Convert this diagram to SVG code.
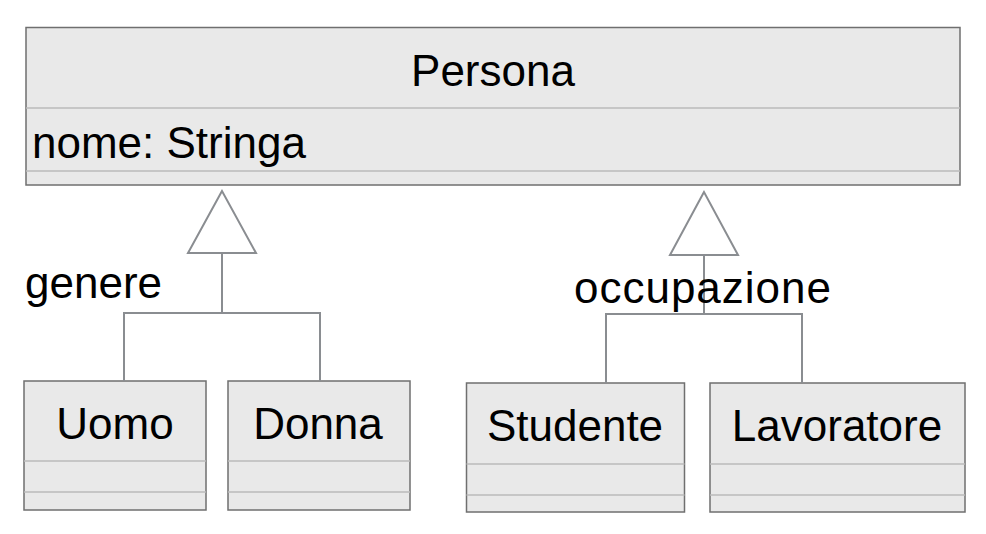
<svg xmlns="http://www.w3.org/2000/svg" width="986" height="534" viewBox="0 0 986 534">
<style>
.box{fill:#e9e9e9;stroke:#6f6f6f;stroke-width:1.5}
.div{stroke:#bababa;stroke-width:1.5}
.conn{fill:none;stroke:#8a8d91;stroke-width:2}
.tri{fill:#ffffff;stroke:#8a8d91;stroke-width:2}
text{font-family:"Liberation Sans",Arial,sans-serif;font-size:44px;fill:#000}
.c{text-anchor:middle}
</style>
<rect width="986" height="534" fill="#ffffff"/>
<g id="Persona">
<rect class="box" x="26" y="27.5" width="934" height="157.5"/>
<line class="div" x1="26" y1="108" x2="960" y2="108"/>
<line class="div" x1="26" y1="171" x2="960" y2="171"/>
<text class="c" x="493" y="86">Persona</text>
<text x="32" y="158">nome: Stringa</text>
</g>
<g id="Uomo">
<rect class="box" x="24" y="381" width="182" height="129"/>
<line class="div" x1="24" y1="461" x2="206" y2="461"/>
<line class="div" x1="24" y1="492" x2="206" y2="492"/>
<text class="c" x="115" y="439">Uomo</text>
</g>
<g id="Donna">
<rect class="box" x="228" y="381" width="182" height="129"/>
<line class="div" x1="228" y1="461" x2="410" y2="461"/>
<line class="div" x1="228" y1="492" x2="410" y2="492"/>
<text class="c" x="318" y="439">Donna</text>
</g>
<g id="Studente">
<rect class="box" x="466.5" y="383" width="218" height="129"/>
<line class="div" x1="466.5" y1="464" x2="684.5" y2="464"/>
<line class="div" x1="466.5" y1="495" x2="684.5" y2="495"/>
<text class="c" x="575" y="441">Studente</text>
</g>
<g id="Lavoratore">
<rect class="box" x="710" y="383" width="255" height="129"/>
<line class="div" x1="710" y1="464" x2="965" y2="464"/>
<line class="div" x1="710" y1="495" x2="965" y2="495"/>
<text class="c" x="837" y="441">Lavoratore</text>
</g>
<g id="connectors">
<path class="conn" d="M222 253 V313 M124 381 V313 H320 V381"/>
<polygon class="tri" points="222,191 188,253 256,253"/>
<path class="conn" d="M704 255 V314 M606 383 V314 H802 V383"/>
<polygon class="tri" points="704,192 670,255 738,255"/>
</g>
<g id="labels">
<text x="25" y="298">genere</text>
<text x="574" y="303" textLength="257" lengthAdjust="spacing">occupazione</text>
</g>
</svg>
